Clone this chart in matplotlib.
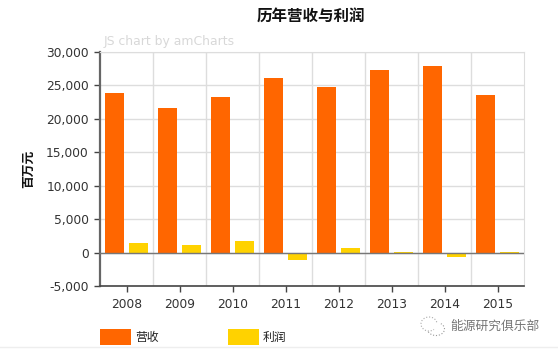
import matplotlib
matplotlib.use('Agg')
import numpy as np
import matplotlib.pyplot as plt
from matplotlib.patches import Rectangle, Arc

plt.rcParams['font.family'] = ['DejaVu Sans', 'Noto Sans CJK SC']

years = ['2008', '2009', '2010', '2011', '2012', '2013', '2014', '2015']
revenue = [23850, 21650, 23300, 26150, 24800, 27300, 27850, 23550]
profit = [1390, 1090, 1690, -1150, 750, 150, -650, 150]
yticks = [-5000, 0, 5000, 10000, 15000, 20000, 25000, 30000]

W, H = 558, 351
orange = '#ff6600'
yellow = '#ffd200'
cjk = ['Noto Sans CJK SC', 'DejaVu Sans']

fig = plt.figure(figsize=(W/100, H/100), dpi=100)
ax = fig.add_axes([100/W, 1-286/H, 424/W, 234/H])

x = np.arange(len(years))
ax.bar(x-0.225, revenue, 0.365, color=orange, zorder=3)
ax.bar(x+0.225, profit, 0.365, color=yellow, zorder=3)
ax.axhline(0, color='#777777', lw=1, zorder=4)

ax.set_xlim(-0.5, 7.5)
ax.set_ylim(-5000, 30000)
ax.set_xticks(x)
ax.set_xticklabels(years)
ax.set_yticks(yticks)
ax.set_yticklabels([f'{v:,}' for v in yticks])
ax.set_xticks(x[:-1]+0.5, minor=True)

ax.grid(True, axis='y', color='#dddddd', lw=1, zorder=0)
ax.grid(True, axis='x', which='minor', color='#dddddd', lw=1, zorder=0)
ax.tick_params(axis='x', which='minor', length=0)
ax.tick_params(axis='both', which='major', length=4, width=1, color='#444444',
               labelsize=8.8, labelcolor='#333333', pad=4)
ax.tick_params(axis='x', which='major', pad=5)

ax.spines['left'].set_color('#666666')
ax.spines['left'].set_linewidth(1.6)
ax.spines['bottom'].set_color('#444444')
ax.spines['bottom'].set_linewidth(1.2)
ax.spines['top'].set_color('#dddddd')
ax.spines['right'].set_color('#dddddd')

fig.text(311/W, 1-17/H, '历年营收与利润', family=cjk, fontsize=11.2, fontweight='bold',
         ha='center', va='center', color='#111111')
fig.text(29/W, 1-169/H, '百万元', family=cjk, fontsize=9.2, fontweight='bold',
         rotation=90, ha='center', va='center', color='#111111')
fig.text(104/W, 1-41/H, 'JS chart by amCharts', fontsize=8.9, color='#d8d8d8',
         ha='left', va='center')

# legend
fig.add_artist(Rectangle((100/W, 1-345/H), 31/W, 16/H, transform=fig.transFigure,
                         facecolor=orange, edgecolor='none'))
fig.add_artist(Rectangle((228/W, 1-345/H), 31/W, 16/H, transform=fig.transFigure,
                         facecolor=yellow, edgecolor='none'))
fig.text(135/W, 1-337/H, '营收', family=cjk, fontsize=8.5, color='#222222', va='center')
fig.text(263/W, 1-337/H, '利润', family=cjk, fontsize=8.5, color='#222222', va='center')

# watermark
fig.text(450/W, 1-326/H, '能源研究俱乐部', family=cjk, fontsize=9.2, color='#777777', va='center')
fig.add_artist(Arc((429/W, 1-324/H), 16/W, 14/H, transform=fig.transFigure,
                   theta1=20, theta2=300, color='#aaaaaa', lw=0.8, ls=':'))
fig.add_artist(Arc((436/W, 1-329/H), 17/W, 13/H, transform=fig.transFigure,
                   theta1=210, theta2=60, color='#999999', lw=0.8, ls=':'))

fig.add_artist(plt.Line2D([0, 1], [1-346.5/H]*2, color='#eeeeee', lw=1))

fig.savefig('out.png', dpi=100)
